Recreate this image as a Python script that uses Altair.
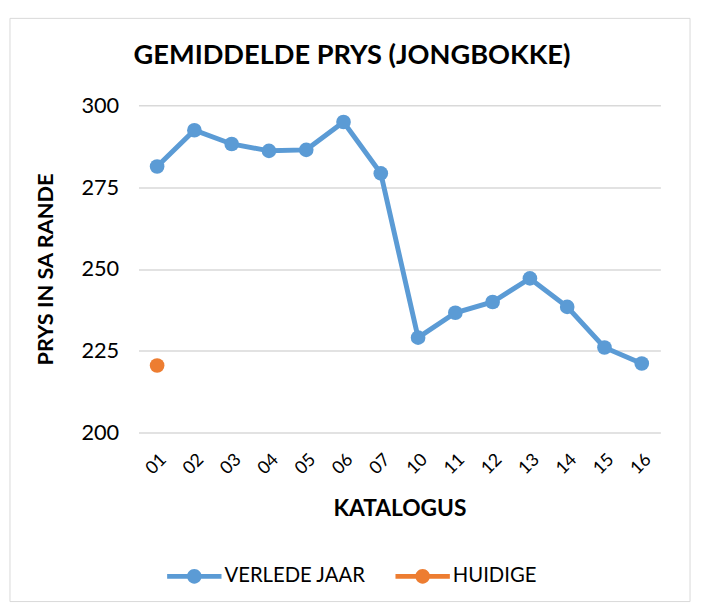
import altair as alt
import pandas as pd

categories = ["01", "02", "03", "04", "05", "06", "07", "10", "11", "12", "13", "14", "15", "16"]
verlede_jaar = [281.3, 292.4, 288.2, 286.1, 286.4, 294.9, 279.2, 229.0, 236.6, 239.9, 247.1, 238.4, 226.0, 221.1]
huidige_cats = ["01"]
huidige = [220.5]
series_names = ["VERLEDE JAAR", "HUIDIGE"]
series_colors = ["#5b9bd5", "#ed7d31"]
y_ticks = [200, 225, 250, 275, 300]
title_text = "GEMIDDELDE PRYS (JONGBOKKE)"

rows = [{"Reeks": series_names[0], "Katalogus": c, "Prys": v} for c, v in zip(categories, verlede_jaar)]
rows += [{"Reeks": series_names[1], "Katalogus": c, "Prys": v} for c, v in zip(huidige_cats, huidige)]
df = pd.DataFrame(rows)

FONT = "Lato"
W, H = 528, 331

x_enc = alt.X("Katalogus:N", sort=categories, scale=alt.Scale(domain=categories, paddingInner=0, paddingOuter=0.5),
              axis=alt.Axis(title="KATALOGUS", labelAngle=-45, labelFontSize=18, labelFont=FONT, labelColor="#000",
                            titleFont=FONT, titleFontSize=23, titleFontWeight="bold", titleColor="#000",
                            titlePadding=20, ticks=False, domain=False, grid=False, labelPadding=18))
y_enc = alt.Y("Prys:Q", scale=alt.Scale(domain=[200, 300], nice=False, zero=False),
              axis=alt.Axis(title="PRYS IN SA RANDE", values=y_ticks, labelFontSize=22, labelFont=FONT,
                            labelColor="#000", titleFont=FONT, titleFontSize=22, titleFontWeight="bold",
                            titleColor="#000", titlePadding=24, ticks=False, domain=False,
                            gridColor="#d9d9d9", gridWidth=1.5, labelPadding=20))

sym = "M -1 -0.085 H 1 V 0.085 H -1 Z M 0.27 0 A 0.27 0.27 0 1 1 -0.27 0 A 0.27 0.27 0 1 1 0.27 0 Z"
legend = alt.Legend(title=None, orient="none", direction="horizontal", legendX=29, legendY=449,
                    symbolType=sym, symbolSize=3025, symbolStrokeWidth=0, symbolOpacity=1,
                    labelFont=FONT, labelFontSize=20.5, labelColor="#000", columnPadding=30, labelOffset=3)
color_enc = alt.Color("Reeks:N", scale=alt.Scale(domain=series_names, range=series_colors), sort=series_names,
                      legend=legend)

base = alt.Chart(df)
lines = base.mark_line(strokeWidth=5).encode(x=x_enc, y=y_enc, color=color_enc)
points = base.mark_point(filled=True, size=220, opacity=1).encode(x=x_enc, y=y_enc, color=color_enc)

one = alt.Chart(pd.DataFrame({"a": [0]}))
border = one.mark_rect(fill=None, stroke="#d9d9d9", strokeWidth=1).encode(
    x=alt.value(-130), x2=alt.value(558), y=alt.value(-88), y2=alt.value(502))
title = one.mark_text(text=title_text, font=FONT, fontSize=27.5, fontWeight="bold", color="#000",
                      align="center", baseline="middle").encode(x=alt.value(216), y=alt.value(-50))

chart = alt.layer(border, title, lines, points).properties(
    width=W, height=H,
    autosize=alt.AutoSizeParams(type="none"),
    padding={"left": 132, "top": 95, "right": 34, "bottom": 173},
    background="white",
).configure_view(stroke=None)

chart.save("out.html", embed_options={"renderer": "svg", "actions": False})
